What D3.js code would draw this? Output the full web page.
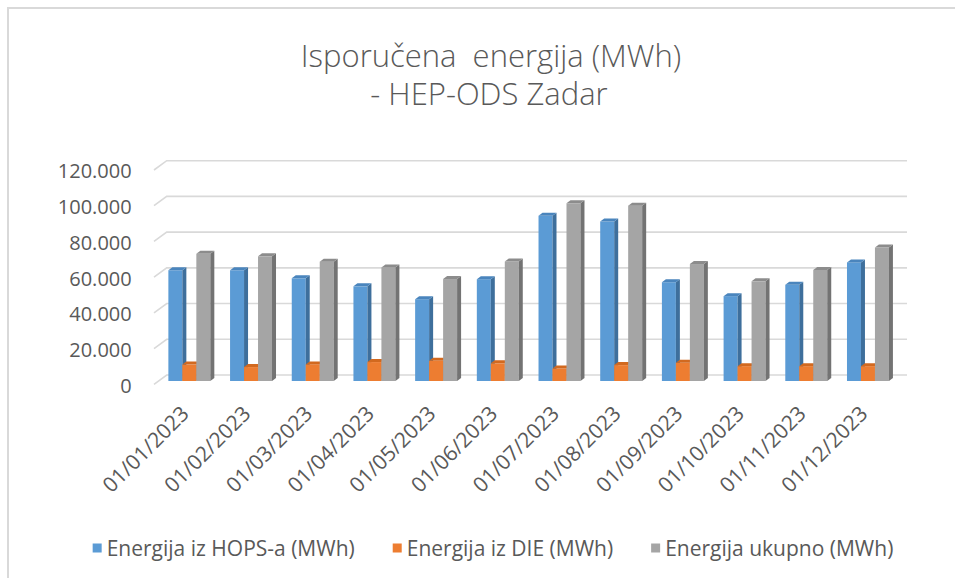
<!DOCTYPE html>
<html>
<head>
<meta charset="utf-8">
<script src="https://cdn.jsdelivr.net/npm/d3@7"></script>
<style>
  body { margin: 0; background: #fff; }
  svg { display: block; font-family: "Open Sans", sans-serif; }
</style>
</head>
<body>
<svg id="chart"></svg>
<script>
const months = ["01/01/2023", "01/02/2023", "01/03/2023", "01/04/2023", "01/05/2023", "01/06/2023",
  "01/07/2023", "01/08/2023", "01/09/2023", "01/10/2023", "01/11/2023", "01/12/2023"];
const hops = [62000, 62000, 57500, 53000, 45800, 57000, 92500, 89300, 55300, 47500, 53900, 66400];
const die = [9200, 7800, 9300, 10600, 11300, 9900, 7000, 8900, 10200, 8300, 8300, 8300];
const ukupno = [71200, 69800, 66800, 63600, 57100, 66900, 99500, 98200, 65500, 55800, 62200, 74700];
const seriesNames = ["Energija iz HOPS-a (MWh)", "Energija iz DIE (MWh)", "Energija ukupno (MWh)"];
const yTicks = [0, 20000, 40000, 60000, 80000, 100000, 120000];

const width = 955;
const height = 578;

// face colours: front, side, top
const palette = [
  ["#5b9bd5", "#3e6f9c", "#4a85bd"],
  ["#ed7d31", "#b35a1f", "#d2691f"],
  ["#a5a5a5", "#737373", "#8c8c8c"],
];

// 3D offsets
const wallDx = -12.7, wallDy = 9.3; // back wall -> front edge of floor
const frontDx = -8.2, frontDy = 6;  // back wall -> bar front face
const depthX = 4, depthY = -3;      // bar depth

const svg = d3.select("#chart").attr("width", width).attr("height", height);

// chart frame
svg.append("rect")
  .attr("x", 8).attr("y", 8)
  .attr("width", width + 20).attr("height", height + 20)
  .attr("fill", "none").attr("stroke", "#d9d9d9").attr("stroke-width", 2);

const y = d3.scaleLinear().domain([0, 120000]).range([375, 160.7]);
const x0 = d3.scaleBand().domain(months).range([166.7, 907]).paddingInner(0.32).paddingOuter(0.16);
const x1 = d3.scaleBand().domain(d3.range(3)).range([0, x0.bandwidth()]);

// gridlines on the back wall
svg.append("g").selectAll("path")
  .data(yTicks)
  .join("path")
  .attr("d", (d) => `M${166.7 + wallDx},${y(d) + wallDy}L166.7,${y(d)}L907,${y(d)}`)
  .attr("fill", "none")
  .attr("stroke", "#d9d9d9")
  .attr("stroke-width", 1.6);

// y labels
svg.append("g").selectAll("text")
  .data(yTicks)
  .join("text")
  .attr("x", 131.7)
  .attr("y", (d) => y(d) + 10.5)
  .attr("dy", "0.36em")
  .attr("text-anchor", "end")
  .attr("fill", "#595959")
  .attr("font-size", 20)
  .text((d) => d3.format(",")(d).replace(/,/g, "."));

// bars
const rows = months.map((m, i) => ({ m, vals: [hops[i], die[i], ukupno[i]] }));
const base = y(0) + frontDy;
const w = x1.bandwidth();

const groups = svg.append("g").selectAll("g")
  .data(rows)
  .join("g")
  .attr("transform", (d) => `translate(${x0(d.m) + frontDx},0)`);

groups.each(function (d) {
  const g = d3.select(this);
  d.vals.forEach((v, k) => {
    const bx = x1(k);
    const top = y(v) + frontDy;
    const c = palette[k];
    g.append("rect")
      .attr("x", bx).attr("y", top)
      .attr("width", w).attr("height", base - top)
      .attr("fill", c[0]);
    g.append("path")
      .attr("d", `M${bx + w},${top}L${bx + w + depthX},${top + depthY}L${bx + w + depthX},${base + depthY}L${bx + w},${base}Z`)
      .attr("fill", c[1]);
    g.append("path")
      .attr("d", `M${bx},${top}L${bx + depthX},${top + depthY}L${bx + w + depthX},${top + depthY}L${bx + w},${top}Z`)
      .attr("fill", c[2]);
  });
});

// x labels
svg.append("g").selectAll("text")
  .data(months)
  .join("text")
  .attr("transform", (d) => `translate(${x0(d) + frontDx + x0.bandwidth() / 2 + 1},415) rotate(-45)`)
  .attr("text-anchor", "end")
  .attr("fill", "#595959")
  .attr("font-size", 21)
  .text((d) => d);

// title (two lines)
const titleLines = svg.append("g")
  .attr("text-anchor", "middle")
  .attr("fill", "#595959")
  .attr("font-size", 31)
  .attr("font-weight", 300);
titleLines.append("text").attr("x", 491).attr("y", 67)
  .text("Isporučena\u00a0 energija (MWh)");
titleLines.append("text").attr("x", 489).attr("y", 105)
  .text("- HEP-ODS Zadar");

// legend
const legend = svg.append("g");
const items = legend.selectAll("g")
  .data(seriesNames)
  .join("g");
items.append("rect")
  .attr("width", 9).attr("height", 9)
  .attr("y", 543.5)
  .attr("fill", (d, i) => palette[i][0]);
items.append("text")
  .attr("x", 14)
  .attr("y", 548)
  .attr("dy", "0.36em")
  .attr("fill", "#595959")
  .attr("font-size", 21)
  .text((d) => d);

let lx = 0;
const offsets = [];
const gap = 38;
items.each(function () {
  offsets.push(lx);
  lx += 14 + d3.select(this).select("text").node().getComputedTextLength() + gap;
});
const legendWidth = lx - gap;
const legendStart = 493 - legendWidth / 2;
items.attr("transform", (d, i) => `translate(${legendStart + offsets[i]},0)`);
</script>
</body>
</html>
